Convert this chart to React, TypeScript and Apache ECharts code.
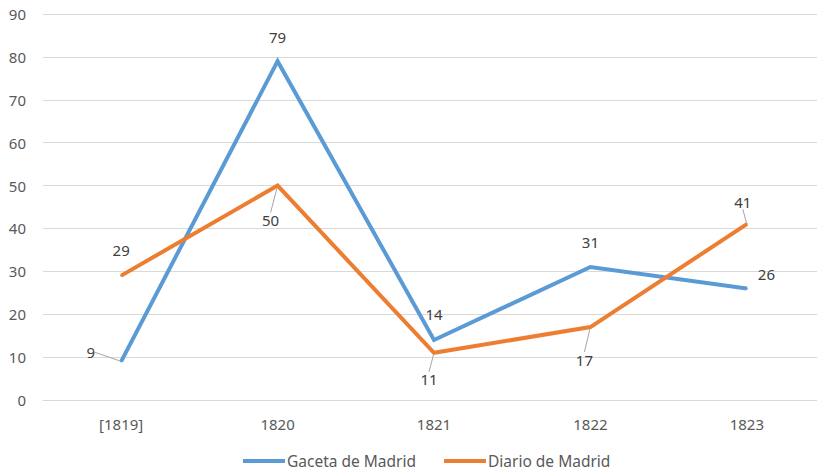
import React, { useEffect, useRef } from "react";
import * as echarts from "echarts";

const categories = ["[1819]", "1820", "1821", "1822", "1823"];
const gaceta = [9, 79, 14, 31, 26];
const diario = [29, 50, 11, 17, 41];
const seriesNames = ["Gaceta de Madrid", "Diario de Madrid"];

// label placement per point (styles only)
const gacetaLabelStyle = [
  { position: "left", dx: -20, dy: -9, line: true },
  { position: "top", distance: 16 },
  { position: "top", distance: 17 },
  { position: "top", distance: 17 },
  { position: "right", dx: 5, dy: -14 },
];
const diarioLabelStyle = [
  { position: "top", distance: 17 },
  { position: "bottom", dx: -7, dy: 21, line: true },
  { position: "bottom", dx: -5, dy: 13, line: true },
  { position: "bottom", dx: -6, dy: 19, line: true },
  { position: "top", dx: -4, dy: -9, line: true },
];

const FONT = "'Noto Sans', 'Open Sans', sans-serif";

function buildData(values: number[], styles: any[]) {
  return values.map((v, i) => {
    const s = styles[i];
    return {
      value: v,
      label: {
        position: s.position,
        distance: s.line ? 5 : s.distance ?? 5,
      },
      labelLine: { show: !!s.line },
    };
  });
}

export default function App() {
  const ref = useRef<HTMLDivElement>(null);
  useEffect(() => {
    if (!ref.current) return;
    const chart = echarts.init(ref.current, undefined, { renderer: "svg" });
    const mkLayout = (styles: any[]) => (p: any) => {
      const s = styles[p.dataIndex];
      return { dx: s.dx ?? 0, dy: s.dy ?? 0 };
    };
    const labelBase = {
      show: true,
      fontSize: 15,
      color: "#404040",
      fontFamily: FONT,
    };
    chart.setOption({
      animation: false,
      backgroundColor: "#ffffff",
      textStyle: { fontFamily: FONT },
      grid: { left: 43, width: 782, top: 14, height: 386, outerBoundsMode: "none", containLabel: false },
      legend: {
        bottom: 1,
        left: 238,
        icon: "rect",
        itemWidth: 42,
        itemHeight: 4,
        itemGap: 28,
        textStyle: { fontSize: 15.5, color: "#595959", fontFamily: FONT, padding: [0, 0, 0, -3] },
        data: seriesNames,
      },
      xAxis: {
        type: "category",
        data: categories,
        boundaryGap: true,
        axisTick: { show: false },
        axisLine: { lineStyle: { color: "#d9d9d9", width: 1 } },
        axisLabel: { fontSize: 15, color: "#595959", margin: 16, fontFamily: FONT },
      },
      yAxis: {
        type: "value",
        min: 0,
        max: 90,
        interval: 10,
        axisLine: { show: false },
        axisTick: { show: false },
        splitLine: { lineStyle: { color: "#d9d9d9", width: 1 } },
        axisLabel: { fontSize: 15, color: "#595959", margin: 17, fontFamily: FONT },
      },
      series: [
        {
          name: seriesNames[0],
          type: "line",
          data: buildData(gaceta, gacetaLabelStyle),
          symbol: "circle",
          symbolSize: 2,
          showSymbol: true,
          itemStyle: { color: "#5B9BD5" },
          lineStyle: { color: "#5B9BD5", width: 4, join: "miter" },
          label: labelBase,
          labelLine: { show: false, lineStyle: { color: "#a6a6a6", width: 1 } },
          labelLayout: mkLayout(gacetaLabelStyle),
        },
        {
          name: seriesNames[1],
          type: "line",
          data: buildData(diario, diarioLabelStyle),
          symbol: "circle",
          symbolSize: 2,
          showSymbol: true,
          itemStyle: { color: "#ED7D31" },
          lineStyle: { color: "#ED7D31", width: 4, join: "miter" },
          label: labelBase,
          labelLine: { show: false, lineStyle: { color: "#a6a6a6", width: 1 } },
          labelLayout: mkLayout(diarioLabelStyle),
        },
      ],
    });
    return () => chart.dispose();
  }, []);
  return (
    <div
      ref={ref}
      style={{ position: "fixed", left: 0, top: 0, width: 817, height: 475 }}
    />
  );
}
